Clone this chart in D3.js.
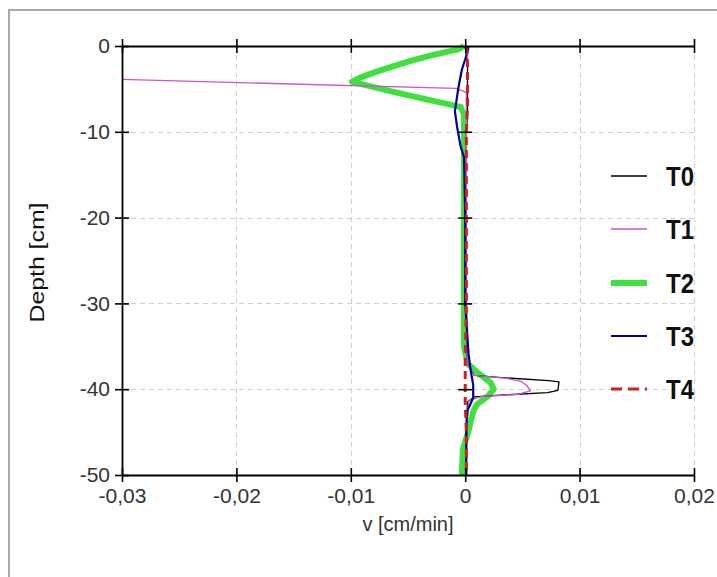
<!DOCTYPE html>
<html><head><meta charset="utf-8">
<script src="https://cdn.jsdelivr.net/npm/d3@7"></script>
<style>
html,body{margin:0;padding:0;background:#fff;}
svg{display:block;font-family:"Liberation Sans",Arial,sans-serif;}
</style></head><body>
<svg id="c" width="717" height="577"></svg>
<script>
// ---- data ----
const seriesNames = ["T0","T1","T2","T3","T4"];
const xTicks = [-0.03,-0.02,-0.01,0,0.01,0.02];
const xTickLabels = ["-0,03","-0,02","-0,01","0","0,01","0,02"];
const yTicks = [0,-10,-20,-30,-40,-50];
const yTickLabels = ["0","-10","-20","-30","-40","-50"];

const T0_depth = [0,-2,-5,-8,-10,-20,-30,-37,-38.4,-38.65,-39.0,-39.15,-40.15,-40.4,-40.7,-40.9,-41.5,-45,-50];
const T0_v     = [0,0.0002,0.0002,0.0002,0.0001,0.0001,0.0001,0.0002,0.0008,0.0032,0.0073,0.0082,0.0081,0.0072,0.003,0.0008,0.0002,0.0001,0.0001];

const T1_depth = [0,-4.95,-5.4,-8,-10,-20,-30,-37,-38.4,-38.7,-39.1,-39.6,-40.2,-40.6,-40.85,-41.3,-45,-50];
const T1_v     = [-0.1375,-0.0008,0.0001,0.0001,0.0001,0.0001,0.0001,0.0002,0.0008,0.0035,0.0049,0.0054,0.0057,0.0046,0.0015,0.0003,0.0001,0.0001];

const T2_depth = [0,-0.4,-1.0,-1.7,-2.4,-3.1,-3.7,-4.15,-4.8,-5.5,-6.3,-7.1,-8,-15,-25,-35,-37,-38.2,-39.2,-40.0,-40.8,-41.8,-42.6,-44.8,-47,-50];
const T2_v     = [-0.0001,-0.0006,-0.0027,-0.0047,-0.0064,-0.0080,-0.0092,-0.0099,-0.0080,-0.0058,-0.0031,-0.0004,-0.0001,-0.0001,-0.0001,-0.0001,0.0002,0.0012,0.0022,0.0025,0.0020,0.0010,0.0007,0.0003,-0.0002,-0.0003];

const T3_depth = [0,-0.7,-2.8,-4.9,-7.6,-9.5,-11.7,-13,-20,-30,-36,-38,-39.5,-41,-42.5,-44,-50];
const T3_v     = [0.0003,0.0002,-0.0003,-0.0006,-0.0009,-0.0007,-0.0004,-0.0001,0,0,0.0003,0.0005,0.0007,0.0007,0.0002,0.0001,0.0001];

const T4_depth = [0,-2,-7,-10,-20,-30,-37,-41.5,-45,-50];
const T4_v     = [0.0001,0.0002,0.0002,0.0001,0.0001,0.0001,0,0,0.0001,0.0001];

const depths = [T0_depth,T1_depth,T2_depth,T3_depth,T4_depth];
const vals   = [T0_v,T1_v,T2_v,T3_v,T4_v];

// ---- styles ----
const styles = [
  {color:"#000000", width:1.3, dash:null},
  {color:"#cc55cc", width:1.3, dash:null},
  {color:"#3de03d", width:6, dash:null},
  {color:"#000099", width:2.2, dash:null},
  {color:"#cc1f1f", width:3, dash:"8,5"}
];
const drawOrder = [2,0,1,3,4];

const svg = d3.select("#c");
const L=122,R=694,T=46,B=475;
const x = d3.scaleLinear().domain([-0.03,0.02]).range([L,R]);
const y = d3.scaleLinear().domain([0,-50]).range([T,B]);

// frame
svg.append("rect").attr("x",9).attr("y",10).attr("width",720).attr("height",580)
  .attr("fill","none").attr("stroke","#a8a8a8").attr("stroke-width",2);

// grid
const grid = svg.append("g").attr("stroke","#cfcfcf").attr("stroke-width",1).attr("stroke-dasharray","5,4");
xTicks.filter(d=>d!==-0.03 && d!==0).forEach(d=>{
  grid.append("line").attr("x1",Math.round(x(d))+0.5).attr("x2",Math.round(x(d))+0.5).attr("y1",T).attr("y2",B);
});
yTicks.filter(d=>d!==0 && d!==-50).forEach(d=>{
  grid.append("line").attr("y1",Math.round(y(d))+0.5).attr("y2",Math.round(y(d))+0.5).attr("x1",L).attr("x2",R);
});

// series
svg.append("clipPath").attr("id","clip").append("rect").attr("x",L).attr("y",T-4).attr("width",R-L).attr("height",B-T+4);
const line = d3.line().x(d=>x(d[0])).y(d=>y(d[1]));
const plot = svg.append("g").attr("clip-path","url(#clip)");
drawOrder.forEach(i=>{
  const pts = vals[i].map((v,k)=>[v,depths[i][k]]);
  const st = styles[i];
  plot.append("path").attr("d",line(pts)).attr("fill","none")
    .attr("stroke",st.color).attr("stroke-width",st.width)
    .attr("stroke-linejoin","round")
    .attr("stroke-dasharray",st.dash);
});

// axes
function crossTicks(g, horizontal){
  g.selectAll(".tick line").attr(horizontal?"y1":"x1",-7).attr(horizontal?"y2":"x2",7)
    .attr("stroke","#000").attr("stroke-width",1.6);
  g.select(".domain").attr("stroke","#000").attr("stroke-width",1.8);
}
const fmtX = d=>xTickLabels[xTicks.indexOf(d)];
const fmtY = d=>yTickLabels[yTicks.indexOf(d)];

const gB = svg.append("g").attr("transform",`translate(0,${B})`)
  .call(d3.axisBottom(x).tickValues(xTicks).tickFormat(fmtX).tickSizeInner(7).tickSizeOuter(0).tickPadding(6));
crossTicks(gB,true);
const gT = svg.append("g").attr("transform",`translate(0,${y(0)})`)
  .call(d3.axisBottom(x).tickValues(xTicks).tickFormat("").tickSizeInner(7).tickSizeOuter(0));
crossTicks(gT,true);
const gL = svg.append("g").attr("transform",`translate(${L},0)`)
  .call(d3.axisLeft(y).tickValues(yTicks).tickFormat(fmtY).tickSizeInner(7).tickSizeOuter(0).tickPadding(5));
crossTicks(gL,false);
const gZ = svg.append("g").attr("transform",`translate(${x(0)},0)`)
  .call(d3.axisLeft(y).tickValues(yTicks.filter(d=>d!==0 && d!==-50)).tickFormat("").tickSizeInner(7).tickSizeOuter(0));
crossTicks(gZ,false);
gZ.select(".domain").attr("stroke","none");

[gB,gL].forEach(g=>g.selectAll("text").attr("font-size",21).attr("fill","#333")
  .attr("font-family","'Liberation Sans',Arial,sans-serif"));

// axis titles
svg.append("text").attr("x",(L+R)/2).attr("y",531).attr("text-anchor","middle")
  .attr("font-size",20).attr("fill","#333").text("v [cm/min]");
svg.append("text").attr("transform",`translate(44,${(T+B)/2+2}) rotate(-90)`).attr("text-anchor","middle")
  .attr("font-size",21).attr("fill","#111")
  .attr("textLength",120).attr("lengthAdjust","spacingAndGlyphs").text("Depth [cm]");

// legend
const legY = [176,229,283,336,389];
const leg = svg.append("g");
seriesNames.forEach((n,i)=>{
  const st = styles[i];
  leg.append("line").attr("x1",611).attr("x2",647).attr("y1",legY[i]).attr("y2",legY[i])
    .attr("stroke",st.color).attr("stroke-width",st.width).attr("stroke-dasharray",st.dash? "11,6":null);
  leg.append("text").attr("transform",`translate(666,${legY[i]+10}) scale(1,1.15)`)
    .attr("font-size",24).attr("font-weight","bold")
    .attr("fill","#111").text(n);
});
</script></body></html>
